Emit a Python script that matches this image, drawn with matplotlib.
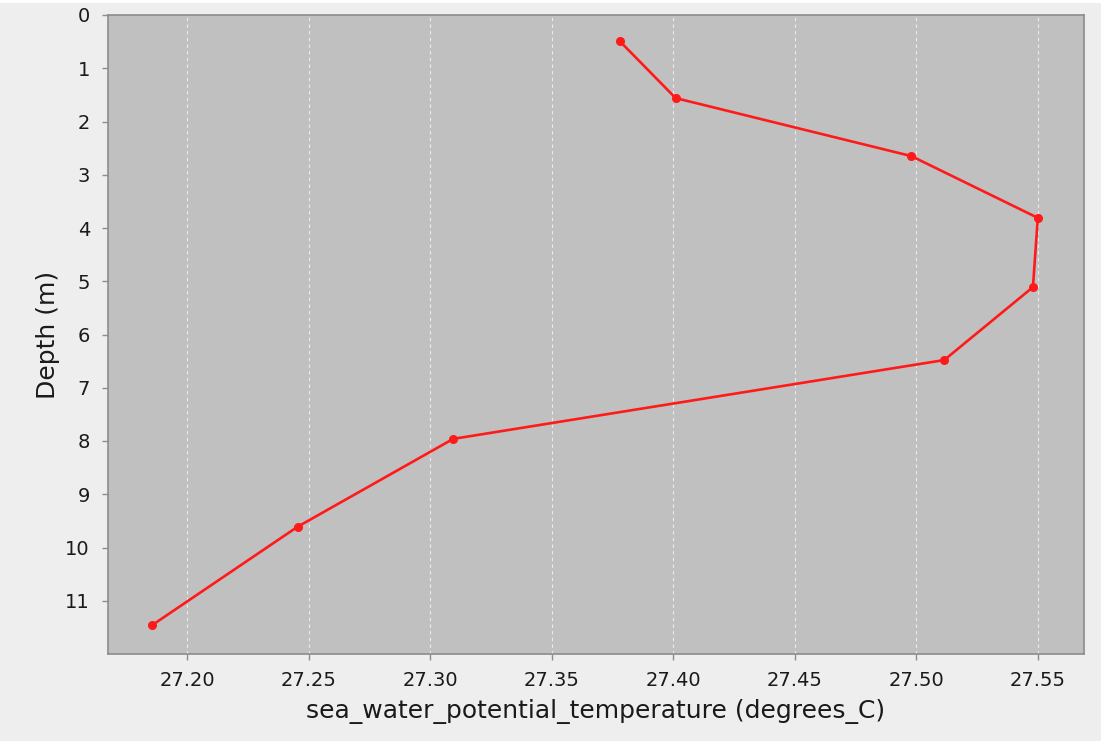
import matplotlib
matplotlib.use('Agg')
import matplotlib.pyplot as plt
from matplotlib.patches import Rectangle

# temperature profile (degrees C) vs depth (m)
temperature = [27.378, 27.401, 27.498, 27.550, 27.548, 27.5115, 27.3095, 27.2455, 27.1856]
depth = [0.49, 1.56, 2.65, 3.81, 5.11, 6.48, 7.96, 9.61, 11.46]

x_ticks = [27.20, 27.25, 27.30, 27.35, 27.40, 27.45, 27.50, 27.55]
y_ticks = list(range(0, 12))

W, H = 1105, 746
fig = plt.figure(figsize=(W / 100, H / 100), dpi=100, facecolor='white')
# light grey panel with a thin white margin on top, right and bottom
fig.patches.append(Rectangle((0, 5 / H), 1101 / W, (H - 8) / H, transform=fig.transFigure,
                             facecolor='#eeeeee', edgecolor='none', zorder=-10))

ax = fig.add_axes([108 / W, 1 - 654 / H, (1084 - 108) / W, (654 - 15) / H])
ax.set_facecolor('#c0c0c0')

ax.plot(temperature, depth, color='#ff1a1a', linewidth=1.9, marker='o', markersize=5.5,
        zorder=3)

ax.set_xlim(27.1675, 27.569)
ax.set_ylim(12, 0)
ax.set_xticks(x_ticks)
ax.set_xticklabels([f'{v:.2f}' for v in x_ticks])
ax.set_yticks(y_ticks)

ax.grid(axis='x', color='white', linestyle=(0, (3, 3)), linewidth=0.8, alpha=0.7)
ax.set_axisbelow(True)

for s in ax.spines.values():
    s.set_color('#8c8c8c')
    s.set_linewidth(1.2)

ax.tick_params(axis='both', colors='#8c8c8c', length=4, width=1, labelcolor='#1a1a1a',
               labelsize=14)
ax.tick_params(axis='x', pad=8)
ax.tick_params(axis='y', pad=9)
for lbl in ax.get_yticklabels():
    lbl.set_fontweight('medium')

ax.set_xlabel('sea_water_potential_temperature (degrees_C)', fontsize=18, color='#1a1a1a',
              labelpad=7)
ax.set_ylabel('Depth (m)', fontsize=18, color='#1a1a1a', labelpad=4)

fig.savefig('out.png', dpi=100, facecolor=fig.get_facecolor())
